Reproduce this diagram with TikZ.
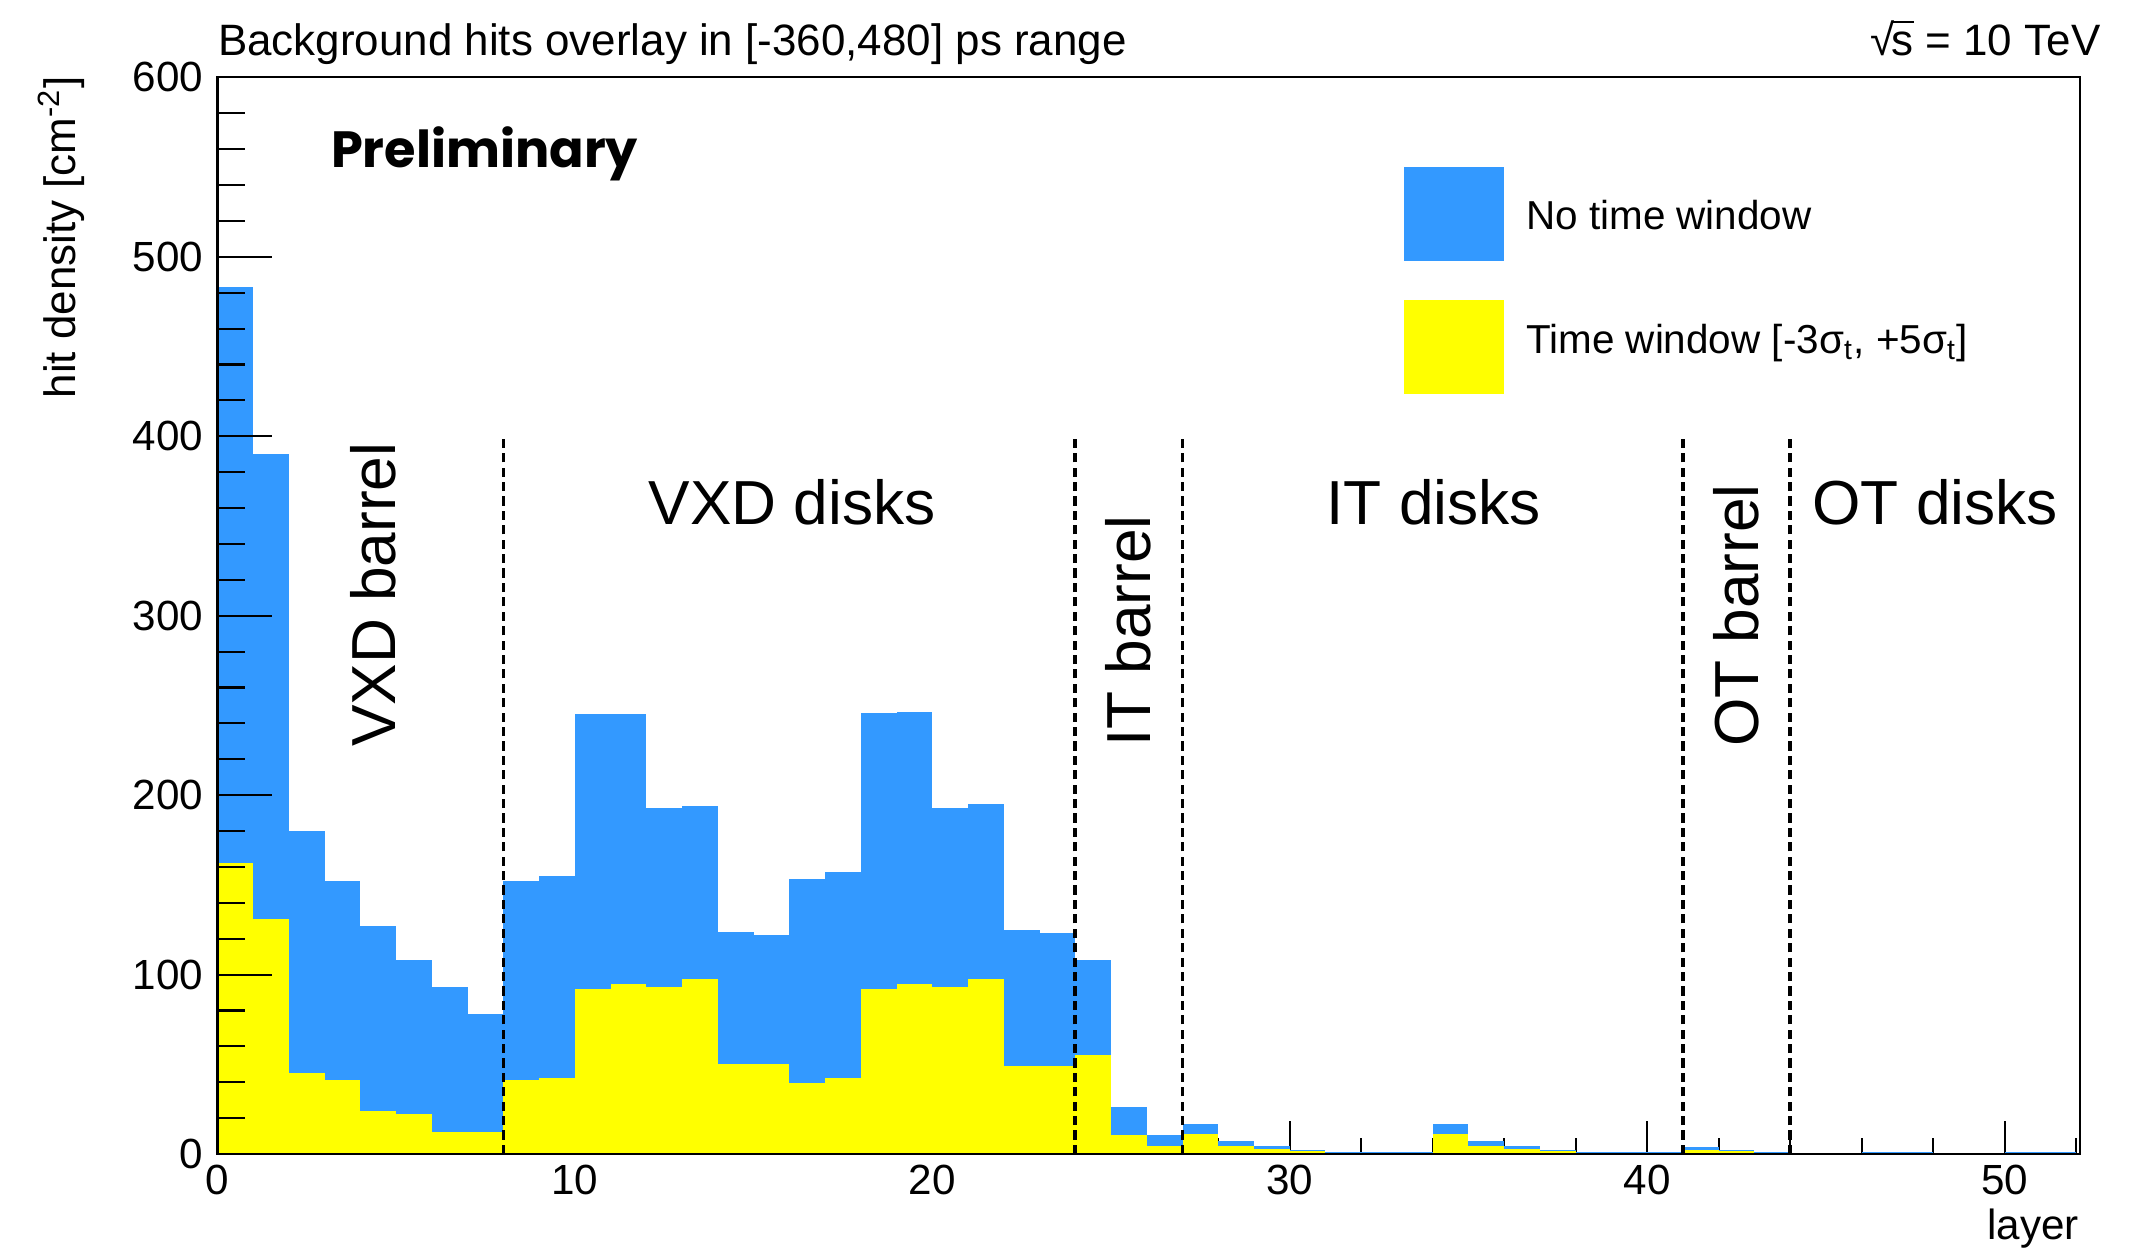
\documentclass[tikz,border=0pt]{standalone}
\usepackage{fontspec}
\setmainfont{Liberation Sans}
\newfontfamily\prelimfont{Poppins}
\usepackage{tikz}
\usetikzlibrary{positioning}
\definecolor{histblue}{RGB}{51,153,255}
\definecolor{histyellow}{RGB}{255,255,0}
\tikzset{ticklbl/.style={inner sep=0pt,font=\fontsize{12}{14}\selectfont},
  region/.style={inner sep=0pt,font=\fontsize{17.7}{20}\selectfont},
  legtxt/.style={inner sep=0pt,anchor=west,font=\fontsize{11.5}{13}\selectfont},
  legbox/.style={inner sep=0pt,minimum width=1.0cm,minimum height=0.94cm},
  divider/.style={line width=1.1pt,dash pattern=on 2.6pt off 1.5pt}}

\begin{document}
\begin{tikzpicture}
    \useasboundingbox (0,0) rectangle (21.31,12.49);
    \begin{scope}[shift={(2.175,0.95)},x=0.3574cm,y=0.01794cm]
    % x ticks (under the bars)
    \foreach \l in {0,2,...,52} \draw[line width=0.6pt] (\l,0) -- ++(0,0.16cm);
    \foreach \l in {0,10,...,50} \draw[line width=0.6pt] (\l,0) -- ++(0,0.33cm);

    % total / time window
    \foreach \tot/\yel [count=\i from 0] in {483/162,390/131,180/45,152/41,127/24,108/22.5,93/12.5,78/12.5,
        152/41,155/42.5,245/92,245/94.5,193/93,194/97.5,124/50,122/50,153/39.5,157/42.5,245.5/92,246.5/94.5,
        193/93,195/97.5,125/49,123/49,108/55,26/10.5,10.5/4.5,17/11,7/4.5,4.5/3,2.5/1.5,1/0.7,1/0.7,1/0.7,
        17/11,7.5/4.5,4.5/3,2.5/1.5,1/0.7,1/0.7,1/0.7,4/2,2.5/1.5,1/0.5,0/0,0/0,1/0.7,1/0.7,0/0,0/0,1/0.5,1/0.5}{
        \fill[histblue] (\i,0) rectangle (\i+1,\tot);
        \fill[histyellow] (\i,0) rectangle (\i+1,\yel);
    }

    % frame and y axis
    \draw[line width=0.6pt] (0,0) rectangle (52.1,600);
    \foreach \v in {0,20,...,600} \draw[line width=0.6pt] (0,\v) -- ++(0.27cm,0);
    \foreach \v in {0,100,...,600} {
        \draw[line width=0.6pt] (0,\v) -- ++(0.54cm,0);
        \node[ticklbl,anchor=east] (ylbl\v) at (-0.38,\v) {\v};
    }
    \foreach \l in {0,10,...,50} \node[ticklbl,anchor=north] (xlbl\l) at (\l,-6) {\l};

    % detector regions
    \foreach \l in {8,24,27,41,44} \draw[divider] (\l,0) -- (\l,400);
    \node[region,rotate=90,anchor=west] (vxdb) at (4.37,226.5) {VXD barrel};
    \node[region] (vxdd) at (16.08,363) {VXD disks};
    \node[region,rotate=90,anchor=west] (itb) at (25.47,226.5) {IT barrel};
    \node[region] (itd) at (34.03,363) {IT disks};
    \node[region,rotate=90,anchor=west] (otb) at (42.5,226.5) {OT barrel};
    \node[region] (otd) at (48.06,363) {OT disks};

    % legend
    \node[legbox,fill=histblue] (legb) at (34.6,524) {};
    \node[legbox,fill=histyellow] (legy) at (34.6,450) {};
    \node[legtxt] (legbt) at (36.6,523.5) {No time window};
    \node[legtxt] (legyt) at (36.6,452) {Time window [-3σ\textsubscript{t}, +5σ\textsubscript{t}]};

    % titles
    \node[inner sep=0pt,anchor=base west,font=\fontsize{12.5}{14}\selectfont] (title) at (0,612)
        {Background hits overlay in [-360,480] ps range};
    \node[inner sep=0pt,anchor=base east,font=\fontsize{12.5}{14}\selectfont] (energy) at (52.7,612)
        {√\kern-0.08em\rlap{\rule[0.74em]{0.52em}{0.05em}}s = 10 TeV};
    \node[inner sep=0pt,rotate=90,anchor=east,font=\fontsize{12.5}{14}\selectfont] (ytitle) at (-4.37,601)
        {hit density [cm\textsuperscript{-2}]};
    \node[ticklbl,anchor=north east] (xtitle) at (52.1,-30) {layer};
    \node[inner sep=0pt,anchor=west,font=\prelimfont\bfseries\fontsize{14.5}{16}\selectfont] (prelim) at (3.16,557.6)
        {Preliminary};
    \end{scope}
\end{tikzpicture}
\end{document}
